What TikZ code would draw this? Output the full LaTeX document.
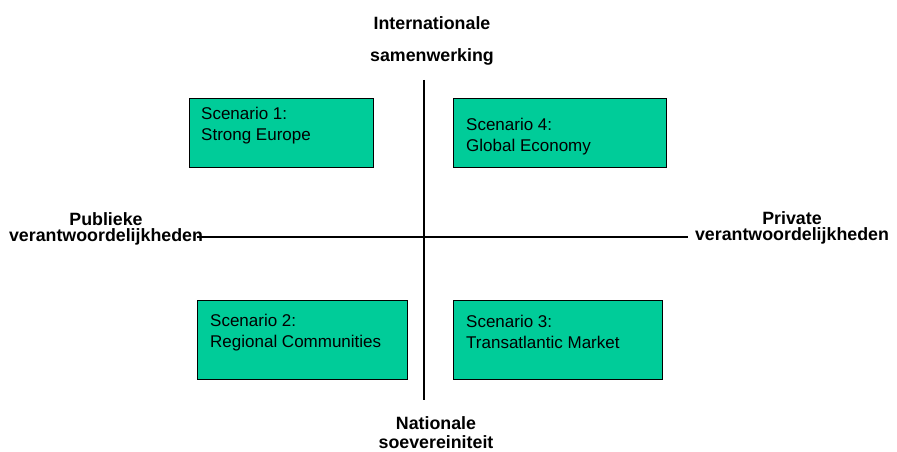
\documentclass[tikz,border=0pt]{standalone}
\usepackage{fontspec}
\setmainfont{Liberation Sans}
\definecolor{scengreen}{RGB}{0,204,153}
\begin{document}
\begin{tikzpicture}[x=1pt,y=-1pt,
  scenbox/.style={draw=black,line width=1pt,fill=scengreen,anchor=north west,inner sep=0pt},
  scentext/.style={anchor=north west,inner sep=0pt,align=left,font=\fontsize{17}{20.5}\selectfont},
  axislabel/.style={anchor=north,inner sep=0pt,align=center}]
\useasboundingbox (0,0) rectangle (897,452);

% assen
\coordinate (top) at (424,80);
\coordinate (bottom) at (424,400);
\coordinate (left) at (197,237);
\coordinate (right) at (688,237);
\draw[line width=1.3pt] (top) -- (bottom);
\draw[line width=1.3pt] (left) -- (right);

% scenario's
\node[scenbox,minimum width=184,minimum height=69] (s1) at (189,98) {};
\node[scenbox,minimum width=213,minimum height=69] (s4) at (453,98) {};
\node[scenbox,minimum width=210,minimum height=79] (s2) at (197,300) {};
\node[scenbox,minimum width=209,minimum height=79] (s3) at (453,300) {};
\node[scentext] (t1) at (201,107) {Scenario 1:\\Strong Europe};
\node[scentext] (t4) at (466,118) {Scenario 4:\\Global Economy};
\node[scentext] (t2) at (210,314) {Scenario 2:\\Regional Communities};
\node[scentext] (t3) at (466,315) {Scenario 3:\\Transatlantic Market};

% labels
\node[axislabel,font=\fontsize{17.8}{32}\selectfont\bfseries] (intl) at (432,16) {Internationale\\samenwerking};
\node[axislabel,font=\fontsize{17.8}{19}\selectfont\bfseries] (natl) at (436,416) {Nationale\\soevereiniteit};
\node[axislabel,font=\fontsize{17.8}{16}\selectfont\bfseries] (publ) at (106,212) {Publieke\\verantwoordelijkheden};
\node[axislabel,font=\fontsize{17.8}{16}\selectfont\bfseries] (priv) at (792,211) {Private\\verantwoordelijkheden};

\end{tikzpicture}
\end{document}
